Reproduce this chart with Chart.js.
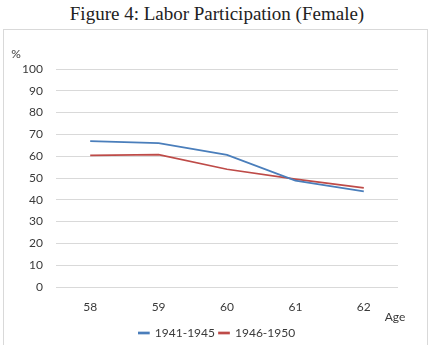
<!DOCTYPE html>
<html>
<head>
<meta charset="utf-8">
<script src="https://cdn.jsdelivr.net/npm/chart.js@4"></script>
<style>
  body { margin: 0; background: #fff; overflow: hidden; }
  #title {
    position: absolute; left: 0; top: 3px; width: 434px; text-align: center;
    font-family: "Liberation Serif", serif; font-size: 19px; color: #222;
  }
  #box {
    position: absolute; left: 3px; top: 29px; width: 423px; height: 330px;
    border: 1px solid #d9d9d9;
  }
  #chart { position: absolute; left: 0; top: 0; }
</style>
</head>
<body>
<div id="title">Figure 4: Labor Participation (Female)</div>
<div id="box"></div>
<canvas id="chart" width="434" height="349"></canvas>
<script>
// dados
const ages = ['58', '59', '60', '61', '62'];
const cohortA = [66.9, 66.0, 60.6, 48.8, 43.9]; // 1941-1945
const cohortB = [60.4, 60.7, 54.0, 49.5, 45.5]; // 1946-1950
const seriesNames = ['1941-1945', '1946-1950'];
const yMax = 100;
const yStep = 10;

const textColor = '#3a3a3a';
const gridColor = '#d9d9d9';
const font = { family: 'Lato', size: 12 };

// rótulos extras "%" e "Age"
const axisLabels = {
  id: 'axisLabels',
  afterDraw(chart) {
    const { ctx, chartArea } = chart;
    ctx.save();
    ctx.fillStyle = textColor;
    ctx.font = '12px Lato';
    ctx.textBaseline = 'middle';
    ctx.textAlign = 'center';
    ctx.fillText('%', chartArea.left - 40, chartArea.top - 15);
    ctx.fillText('Age', chartArea.right - 3, chartArea.bottom + 30);
    ctx.restore();
  }
};

new Chart(document.getElementById('chart').getContext('2d'), {
  type: 'line',
  data: {
    labels: ages,
    datasets: [{
      label: seriesNames[0],
      data: cohortA,
      borderColor: '#4a7ebb',
      backgroundColor: '#4a7ebb',
      borderWidth: 1.7,
      pointRadius: 0,
      tension: 0
    }, {
      label: seriesNames[1],
      data: cohortB,
      borderColor: '#be4b48',
      backgroundColor: '#be4b48',
      borderWidth: 1.7,
      pointRadius: 0,
      tension: 0
    }]
  },
  options: {
    responsive: false,
    animation: false,
    layout: { padding: { top: 69, left: 0, right: 0, bottom: 0 } },
    plugins: {
      title: { display: false },
      tooltip: { enabled: false },
      legend: {
        position: 'bottom',
        labels: {
          boxWidth: 10,
          boxHeight: 1,
          color: textColor,
          font: font,
          padding: 4
        }
      }
    },
    scales: {
      y: {
        min: 0,
        max: yMax,
        ticks: { stepSize: yStep, padding: 13, color: textColor, font: font },
        grid: { color: gridColor, drawTicks: false },
        border: { display: false },
        afterFit: s => { s.width = 56; }
      },
      // eixo vazio à direita só para reservar espaço (legenda fica centrada)
      yRight: {
        position: 'right',
        ticks: { display: false },
        grid: { display: false, drawTicks: false },
        border: { display: false },
        afterFit: s => { s.width = 36; }
      },
      x: {
        offset: true,
        ticks: { padding: 13, color: textColor, font: font },
        grid: { display: false, drawTicks: false },
        border: { display: false },
        afterFit: s => { s.height = 36; }
      }
    }
  },
  plugins: [axisLabels]
});
</script>
</body>
</html>
